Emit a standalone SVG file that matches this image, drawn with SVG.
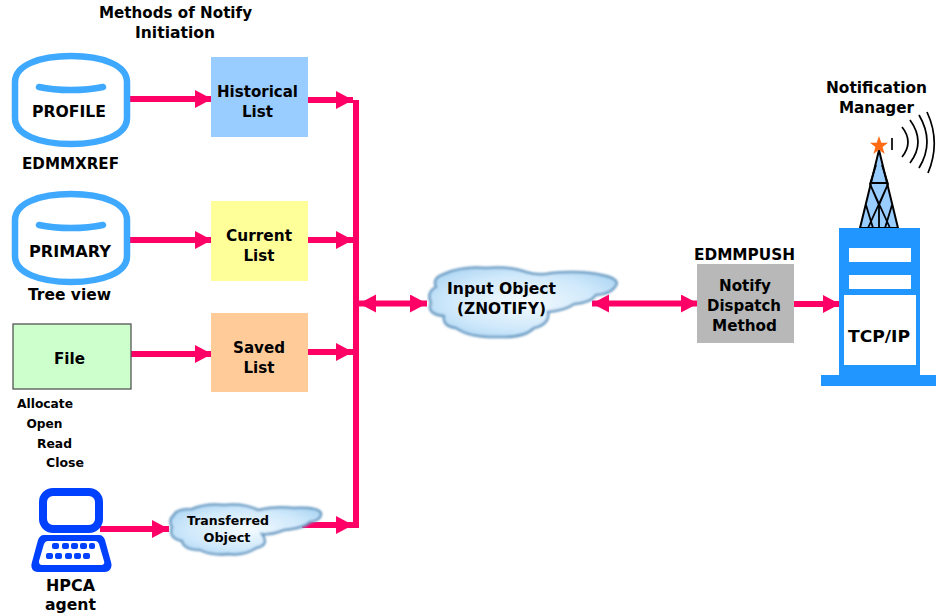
<svg xmlns="http://www.w3.org/2000/svg" width="936" height="616" viewBox="0 0 936 616">
<defs>
<marker id="ah" markerUnits="userSpaceOnUse" markerWidth="20" markerHeight="20" refX="17" refY="9" orient="auto-start-reverse"><path d="M0,0 L17,9 L0,18 Z" fill="#ff0066"/></marker>
<radialGradient id="cg" cx="0.5" cy="0.5" r="0.65"><stop offset="0" stop-color="#f4fbff"/><stop offset="0.6" stop-color="#cfe8fb"/><stop offset="1" stop-color="#a6d3f2"/></radialGradient>
<filter id="soft" x="-5%" y="-10%" width="110%" height="120%"><feGaussianBlur stdDeviation="0.9"/></filter>
<path id="cyl" d="M3,29 C3,12 28,3 59,3 C90,3 115,12 115,29 L115,65 C115,82 90,91 59,91 C28,91 3,82 3,65 Z M27,34 C45,38 73,38 91,34"/>
</defs>
<style>
text{font-family:"DejaVu Sans","Liberation Sans",sans-serif;font-weight:700;fill:#000;text-anchor:middle;lengthAdjust:spacingAndGlyphs}
.t16{font-size:16.5px}
.t15{font-size:16px}
.t13{font-size:13px}
.cy{fill:#fff;stroke:#3fa9ff;stroke-width:6.5;stroke-linecap:round}
.ln{fill:none;stroke:#ff0066;stroke-width:6}
.one{marker-end:url(#ah)}
.two{marker-end:url(#ah);marker-start:url(#ah)}
.tw{fill:#2196ff}
.wave{fill:none;stroke:#000;stroke-width:1.7}
.tl{fill:none;stroke:#000;stroke-width:1.8}
.kb{fill:#0040ff}
.cl{fill:url(#cg);stroke:#6a9cc4;stroke-width:2.5}
</style>

<g id="title"><text class="t15" x="175.500" y="18" textLength="153" lengthAdjust="spacingAndGlyphs">Methods of Notify</text><text class="t15" x="175" y="38" textLength="80" lengthAdjust="spacingAndGlyphs">Initiation</text></g>

<g id="connectors">
<path class="ln one" d="M130,99 H212"/>
<path class="ln one" d="M130,240 H212"/>
<path class="ln one" d="M131,354 H212"/>
<path class="ln one" d="M100,529 H169"/>
<path class="ln one" d="M308,100 H353"/>
<path class="ln one" d="M307,240 H353"/>
<path class="ln one" d="M307,352 H353"/>
<path class="ln one" d="M302,525 H353"/>
<path class="ln" d="M356,100 V528"/>
<path class="ln two" d="M359,303.500 H427"/>
<path class="ln two" d="M592,303.500 H698"/>
<path class="ln one" d="M794,304 H840"/>
</g>

<g id="profile">
<use href="#cyl" x="12" y="53" class="cy"/>
<text class="t16" x="69" y="117" textLength="74" lengthAdjust="spacingAndGlyphs">PROFILE</text>
<text class="t15" x="70.500" y="169" textLength="97" lengthAdjust="spacingAndGlyphs">EDMMXREF</text>
</g>
<g id="primary">
<use href="#cyl" x="12" y="191" class="cy"/>
<text class="t16" x="70" y="257" textLength="82" lengthAdjust="spacingAndGlyphs">PRIMARY</text>
<text class="t15" x="69.500" y="300" textLength="83" lengthAdjust="spacingAndGlyphs">Tree view</text>
</g>
<g id="file">
<rect x="13" y="324" width="118" height="65" fill="#ccffcc" stroke="#555" stroke-width="1.3"/>
<text class="t16" x="69.500" y="364" textLength="31" lengthAdjust="spacingAndGlyphs">File</text>
<text class="t13" x="45" y="408" textLength="56" lengthAdjust="spacingAndGlyphs">Allocate</text>
<text class="t13" x="44.500" y="428" textLength="36" lengthAdjust="spacingAndGlyphs">Open</text>
<text class="t13" x="54.500" y="448" textLength="35" lengthAdjust="spacingAndGlyphs">Read</text>
<text class="t13" x="65" y="467" textLength="38" lengthAdjust="spacingAndGlyphs">Close</text>
</g>
<g id="historical">
<rect x="211" y="57" width="97" height="80" fill="#99ccff"/>
<text class="t16" x="257.500" y="97" textLength="81" lengthAdjust="spacingAndGlyphs">Historical</text><text class="t16" x="257.500" y="117" textLength="31" lengthAdjust="spacingAndGlyphs">List</text>
</g>
<g id="current">
<rect x="211" y="201" width="97" height="80" fill="#ffff99"/>
<text class="t16" x="259" y="241" textLength="66" lengthAdjust="spacingAndGlyphs">Current</text><text class="t16" x="259" y="261" textLength="31" lengthAdjust="spacingAndGlyphs">List</text>
</g>
<g id="saved">
<rect x="211" y="313" width="97" height="79" fill="#ffcc99"/>
<text class="t16" x="259" y="353" textLength="52" lengthAdjust="spacingAndGlyphs">Saved</text><text class="t16" x="259" y="373" textLength="31" lengthAdjust="spacingAndGlyphs">List</text>
</g>
<g id="agent">
<rect x="43" y="492" width="56" height="37" rx="10" fill="#fff" stroke="#0040ff" stroke-width="8"/>
<path d="M44,535 H99 C102,535 104,537 105,540 L111,562 C113,568 109,572 105,572 H38 C33,572 30,568 32,562 L38,540 C39,537 41,535 44,535 Z" fill="#0040ff"/>
<path d="M48,541 H95 C97,541 98,542 99,544 L104,561 C105,564 103,565 101,565 H42 C40,565 39,564 39,561 L44,544 C45,542 46,541 48,541 Z" fill="#fff"/>
<g class="kb"><rect x="52" y="543" width="7" height="6" rx="2"/><rect x="62" y="543" width="7" height="6" rx="2"/><rect x="71" y="543" width="7" height="6" rx="2"/><rect x="80" y="543" width="7" height="6" rx="2"/><rect x="89" y="543" width="6" height="6" rx="2"/><rect x="46" y="553" width="7" height="6" rx="2"/><rect x="55" y="553" width="7" height="6" rx="2"/><rect x="65" y="553" width="7" height="6" rx="2"/><rect x="74" y="553" width="7" height="6" rx="2"/><rect x="83" y="553" width="7" height="6" rx="2"/></g>
<text class="t16" x="70.500" y="591" textLength="49" lengthAdjust="spacingAndGlyphs">HPCA</text><text class="t16" x="70.500" y="610" textLength="51" lengthAdjust="spacingAndGlyphs">agent</text>
</g>
<g id="transferred">
<path class="cl" filter="url(#soft)" d="M172,527 Q168,520 174,515 Q176,509 192,509 Q206,503 224,505 Q244,503 258,510 Q274,506 294,508 Q318,507 321,513 Q322,520 310,522 Q304,528 284,530 Q272,535 262,534 Q270,545 256,548 Q244,556 228,554 Q212,556 200,550 Q184,550 182,541 Q168,538 172,527 Z"/>
<text class="t13" x="228" y="525" textLength="82" lengthAdjust="spacingAndGlyphs">Transferred</text><text class="t13" x="227" y="542" textLength="47" lengthAdjust="spacingAndGlyphs">Object</text>
</g>
<g id="input">
<path class="cl" filter="url(#soft)" d="M431,303 Q426,292 436,287 Q432,278 444,274 Q462,266 486,268 Q510,266 526,272 Q538,276 552,273 Q584,270 606,276 Q621,280 615,287 Q610,294 596,295 Q590,303 574,304 Q566,310 548,312 Q550,324 534,328 Q524,338 500,337 Q470,338 456,328 Q442,326 444,316 Q426,314 431,303 Z"/>
<text class="t16" x="501.500" y="294" textLength="109" lengthAdjust="spacingAndGlyphs">Input Object</text><text class="t16" x="501.500" y="314" textLength="89" lengthAdjust="spacingAndGlyphs">(ZNOTIFY)</text>
</g>
<g id="dispatch">
<text class="t15" x="744.500" y="260" textLength="101" lengthAdjust="spacingAndGlyphs">EDMMPUSH</text>
<rect x="697" y="264" width="97" height="79" fill="#b8b8b8"/>
<text class="t16" x="745" y="291" textLength="52" lengthAdjust="spacingAndGlyphs">Notify</text><text class="t16" x="744" y="311" textLength="74" lengthAdjust="spacingAndGlyphs">Dispatch</text><text class="t16" x="744.500" y="331" textLength="65" lengthAdjust="spacingAndGlyphs">Method</text>
</g>
<g id="manager">
<text class="t15" x="876.500" y="93" textLength="101" lengthAdjust="spacingAndGlyphs">Notification</text><text class="t15" x="876.500" y="113" textLength="75" lengthAdjust="spacingAndGlyphs">Manager</text>
<path d="M879,150 L898,228 H860 Z" fill="#99ccff" stroke="#000" stroke-width="2"/>
<path class="tl" d="M872,183 H887 M876,165 L870,184 L890,228 M882,165 L888,184 L868,228 M866,205 L873,228 M892,205 L885,228 M870,184 L879,205 L888,184 M879,205 V228"/>
<path d="M879,136 L881.300,142.800 L888,142.800 L882.600,147 L884.600,154 L879,149.800 L873.400,154 L875.400,147 L870,142.800 L876.700,142.800 Z" fill="#ff6a13"/>
<path class="wave" d="M892,138 V150 M902,127 Q914,142 902,157 M910,120 Q926,142 910,163 M919,115 Q935,142 919,168 M927,112 Q941,142 928,173"/>
<path class="tw" d="M839,228 H920 V375 H936 V386 H821 V375 H839 Z"/>
<rect x="849" y="248" width="62" height="14" fill="#fff"/>
<rect x="849" y="275" width="62" height="14" fill="#fff"/>
<rect x="844" y="295" width="72" height="70" fill="#fff"/>
<text class="t16" x="879" y="342" textLength="62" lengthAdjust="spacingAndGlyphs">TCP/IP</text>
</g>
</svg>
